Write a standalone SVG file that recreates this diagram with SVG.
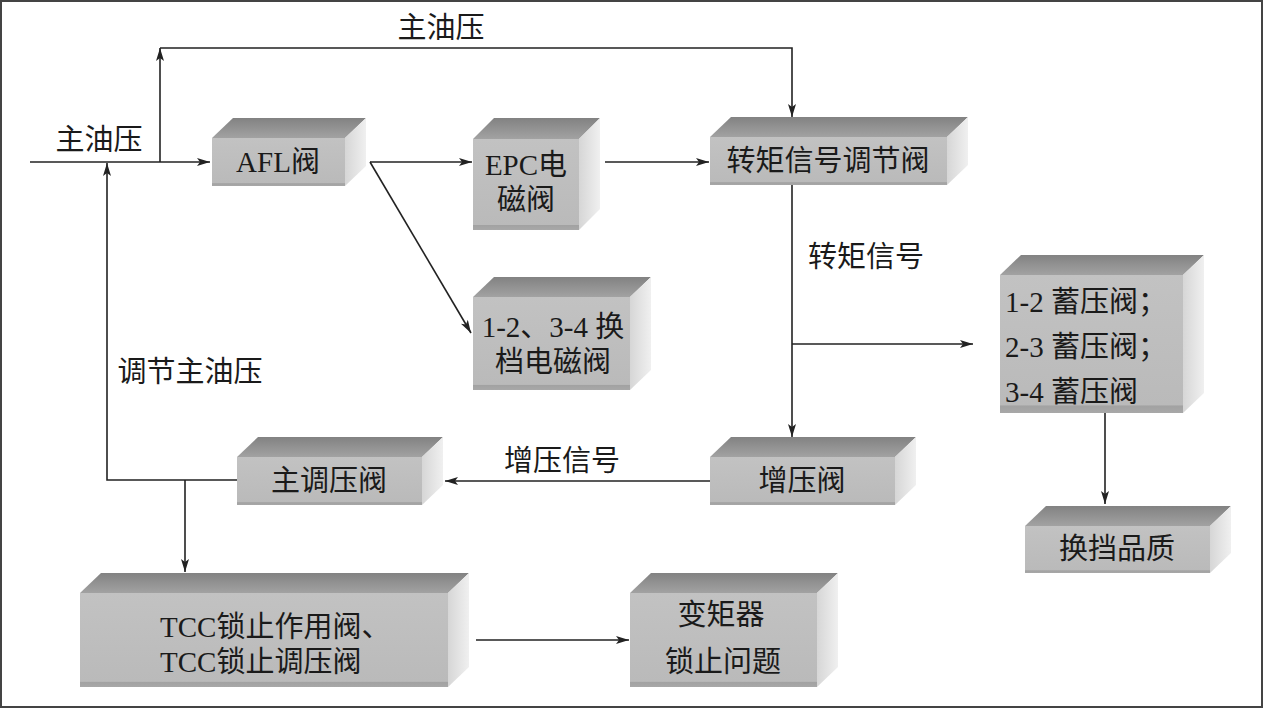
<svg xmlns="http://www.w3.org/2000/svg" width="1264" height="710" viewBox="0 0 1264 710">
<style>
.t{font-family:"Liberation Serif","Noto Sans CJK SC",serif;font-size:29px;fill:#1a1a1a}
.c{text-anchor:middle}
.ln{fill:none;stroke:#222;stroke-width:1.6}
.top{fill:url(#gTop)}
.side{fill:url(#gSide)}
.front{fill:url(#gFront)}
</style>
<defs>
<linearGradient id="gTop" x1="0" y1="0" x2="0" y2="1"><stop offset="0" stop-color="#828282"/><stop offset="1" stop-color="#a2a2a2"/></linearGradient>
<linearGradient id="gSide" x1="0" y1="0" x2="1" y2="0"><stop offset="0" stop-color="#d6d6d6"/><stop offset="1" stop-color="#f0f0f0"/></linearGradient>
<linearGradient id="gFront" x1="0" y1="0" x2="0" y2="1"><stop offset="0" stop-color="#c2c2c2"/><stop offset="0.94" stop-color="#bababa"/><stop offset="0.95" stop-color="#a2a2a2"/><stop offset="1" stop-color="#a8a8a8"/></linearGradient>
<marker id="arr" markerUnits="userSpaceOnUse" markerWidth="14" markerHeight="10" refX="13" refY="4" orient="auto">
<path d="M0,0 L13,4 L0,8 L3,4 z" fill="#222"/>
</marker>
</defs>
<rect x="1" y="1" width="1261" height="706" fill="#fff" stroke="#444" stroke-width="2"/>

<g id="connectors">
<path class="ln" d="M30,162 H210" marker-end="url(#arr)"/>
<path class="ln" d="M160,162 V48" marker-end="url(#arr)"/>
<path class="ln" d="M160,48 H792 V117" marker-end="url(#arr)"/>
<path class="ln" d="M237,480 H107 V163" marker-end="url(#arr)"/>
<path class="ln" d="M370,162 H472" marker-end="url(#arr)"/>
<path class="ln" d="M370,162 L471,333" marker-end="url(#arr)"/>
<path class="ln" d="M605,162 H709" marker-end="url(#arr)"/>
<path class="ln" d="M792,185 V437" marker-end="url(#arr)"/>
<path class="ln" d="M792,344 H973" marker-end="url(#arr)"/>
<path class="ln" d="M710,481 H445" marker-end="url(#arr)"/>
<path class="ln" d="M185,480 V572" marker-end="url(#arr)"/>
<path class="ln" d="M476,640 H629" marker-end="url(#arr)"/>
<path class="ln" d="M1105,413 V504" marker-end="url(#arr)"/>
</g>

<g id="labels">
<text class="t c" x="441" y="38">主油压</text>
<text class="t c" x="99" y="150">主油压</text>
<text class="t c" x="866" y="267">转矩信号</text>
<text class="t c" x="190" y="382">调节主油压</text>
<text class="t c" x="562" y="471">增压信号</text>
</g>

<g id="n-afl">
<polygon class="top" points="212,138 233,118 366,118 345,138"/>
<polygon class="side" points="345,138 366,118 366,166 345,186"/>
<rect class="front" x="212" y="138" width="133" height="48"/>
<text class="t c" x="278" y="172">AFL阀</text>
</g>

<g id="n-epc">
<polygon class="top" points="473,139 494,118 600,118 579,139"/>
<polygon class="side" points="579,139 600,118 600,209 579,230"/>
<rect class="front" x="473" y="139" width="106" height="91"/>
<text class="t c" x="526" y="175">EPC电</text>
<text class="t c" x="526" y="210">磁阀</text>
</g>

<g id="n-torque">
<polygon class="top" points="710,137 731,117 968,117 947,137"/>
<polygon class="side" points="947,137 968,117 968,165 947,185"/>
<rect class="front" x="710" y="137" width="237" height="48"/>
<text class="t c" x="828" y="171">转矩信号调节阀</text>
</g>

<g id="n-shift-sol">
<polygon class="top" points="473,297 494,277 651,277 630,297"/>
<polygon class="side" points="630,297 651,277 651,370 630,390"/>
<rect class="front" x="473" y="297" width="157" height="93"/>
<text class="t c" x="553" y="337">1-2、3-4 换</text>
<text class="t c" x="553" y="372">档电磁阀</text>
</g>

<g id="n-accum">
<polygon class="top" points="1000,275 1021,255 1204,255 1183,275"/>
<polygon class="side" points="1183,275 1204,255 1204,393 1183,413"/>
<rect class="front" x="1000" y="275" width="183" height="138"/>
<text class="t" x="1005" y="312">1-2 蓄压阀；</text>
<text class="t" x="1005" y="357">2-3 蓄压阀；</text>
<text class="t" x="1005" y="402">3-4 蓄压阀</text>
</g>

<g id="n-main-reg">
<polygon class="top" points="237,457 258,437 443,437 422,457"/>
<polygon class="side" points="422,457 443,437 443,485 422,505"/>
<rect class="front" x="237" y="457" width="185" height="48"/>
<text class="t c" x="329" y="491">主调压阀</text>
</g>

<g id="n-boost">
<polygon class="top" points="710,457 731,437 916,437 895,457"/>
<polygon class="side" points="895,457 916,437 916,485 895,505"/>
<rect class="front" x="710" y="457" width="185" height="48"/>
<text class="t c" x="802" y="491">增压阀</text>
</g>

<g id="n-quality">
<polygon class="top" points="1025,526 1046,506 1231,506 1210,526"/>
<polygon class="side" points="1210,526 1231,506 1231,553 1210,573"/>
<rect class="front" x="1025" y="526" width="185" height="47"/>
<text class="t c" x="1117" y="559">换挡品质</text>
</g>

<g id="n-tcc">
<polygon class="top" points="80,593 101,573 469,573 448,593"/>
<polygon class="side" points="448,593 469,573 469,667 448,687"/>
<rect class="front" x="80" y="593" width="368" height="94"/>
<text class="t" x="160" y="637">TCC锁止作用阀、</text>
<text class="t" x="160" y="672">TCC锁止调压阀</text>
</g>

<g id="n-converter">
<polygon class="top" points="630,593 651,573 838,573 817,593"/>
<polygon class="side" points="817,593 838,573 838,667 817,687"/>
<rect class="front" x="630" y="593" width="187" height="94"/>
<text class="t c" x="721" y="625">变矩器</text>
<text class="t c" x="723" y="672">锁止问题</text>
</g>
</svg>
